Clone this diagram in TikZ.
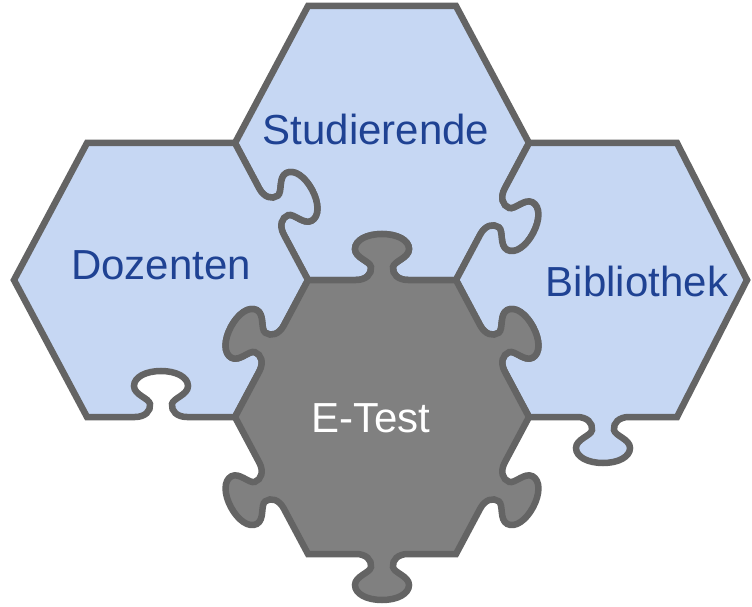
\documentclass[tikz,border=0pt]{standalone}
\usepackage{fontspec}
\setmainfont{Liberation Sans}
\usetikzlibrary{calc}

\definecolor{pieceblue}{RGB}{198,215,243}
\definecolor{piecegray}{RGB}{128,128,128}
\definecolor{edgegray}{RGB}{100,100,100}
\definecolor{labelblue}{RGB}{31,66,147}

\tikzset{
  piece/.style={draw=edgegray, line width=6.5pt, line join=miter, miter limit=10},
  bluepiece/.style={piece, fill=pieceblue},
  graypiece/.style={piece, fill=piecegray},
  lbl/.style={anchor=base, inner sep=0pt, font=\fontsize{42}{50}\selectfont, text=labelblue},
}

% corners of a hexagon with centre (#2,#3): L, TL, TR, R, BR, BL
\newcommand\hexpts[3]{%
  \coordinate (#1L)  at (#2-147,#3);
  \coordinate (#1TL) at (#2-74,#3-137);
  \coordinate (#1TR) at (#2+74,#3-137);
  \coordinate (#1R)  at (#2+147,#3);
  \coordinate (#1BR) at (#2+74,#3+137);
  \coordinate (#1BL) at (#2-74,#3+137);
}

% point of a tab on the edge #2 -> #3: #5 pt along the edge from its middle,
% #6 pt off the edge towards the side given by the angle #4 (90 out, 270 in)
\newcommand\tq[6]{\coordinate (#1) at ($(#2)!0.5!(#3)!#5pt!(#3)!#6pt!#4:(#3)$);}

\newcommand\maketab[4]{%
  \tq{#1p0}{#2}{#3}{#4}{-26}{0}
  \tq{#1a1}{#2}{#3}{#4}{-16}{0}
  \tq{#1b1}{#2}{#3}{#4}{-10}{6}
  \tq{#1p1}{#2}{#3}{#4}{-11}{13}
  \tq{#1a2}{#2}{#3}{#4}{-12}{19}
  \tq{#1b2}{#2}{#3}{#4}{-27}{22}
  \tq{#1p2}{#2}{#3}{#4}{-27}{31}
  \tq{#1a3}{#2}{#3}{#4}{-27}{40}
  \tq{#1b3}{#2}{#3}{#4}{-15}{46}
  \tq{#1p3}{#2}{#3}{#4}{0}{46}
  \tq{#1a4}{#2}{#3}{#4}{15}{46}
  \tq{#1b4}{#2}{#3}{#4}{27}{40}
  \tq{#1p4}{#2}{#3}{#4}{27}{31}
  \tq{#1a5}{#2}{#3}{#4}{27}{22}
  \tq{#1b5}{#2}{#3}{#4}{12}{19}
  \tq{#1p5}{#2}{#3}{#4}{11}{13}
  \tq{#1a6}{#2}{#3}{#4}{10}{6}
  \tq{#1b6}{#2}{#3}{#4}{16}{0}
  \tq{#1p6}{#2}{#3}{#4}{26}{0}
}

\newcommand\tabpath[1]{-- (#1p0)
  .. controls (#1a1) and (#1b1) .. (#1p1)
  .. controls (#1a2) and (#1b2) .. (#1p2)
  .. controls (#1a3) and (#1b3) .. (#1p3)
  .. controls (#1a4) and (#1b4) .. (#1p4)
  .. controls (#1a5) and (#1b5) .. (#1p5)
  .. controls (#1a6) and (#1b6) .. (#1p6)}

\begin{document}
\begin{tikzpicture}[x=1pt,y=-1pt]
\useasboundingbox (0,0) rectangle (752,607);

\hexpts{s}{382}{143}
\hexpts{d}{161}{280}
\hexpts{b}{603}{280}
\hexpts{e}{382}{417}
\coordinate (bR) at (747,280);

% Studierende
\maketab{sb}{sR}{sBR}{90}
\maketab{se}{sBR}{sBL}{270}
\maketab{sd}{sBL}{sL}{270}
% Dozenten
\maketab{ds}{dTR}{dR}{90}
\maketab{de}{dR}{dBR}{270}
\maketab{dbot}{dBR}{dBL}{270}
% Bibliothek
\maketab{bs}{bL}{bTL}{270}
\maketab{bbot}{bBR}{bBL}{90}
\maketab{be}{bBL}{bL}{270}
% E-Test
\maketab{ed}{eL}{eTL}{90}
\maketab{et}{eTL}{eTR}{90}
\maketab{eb}{eTR}{eR}{90}
\maketab{ebr}{eR}{eBR}{90}
\maketab{ebot}{eBR}{eBL}{90}
\maketab{ebl}{eBL}{eL}{90}

\path[bluepiece] (sL) -- (sTL) -- (sTR) -- (sR) \tabpath{sb} -- (sBR)
  \tabpath{se} -- (sBL) \tabpath{sd} -- cycle;
\path[bluepiece] (dL) -- (dTL) -- (dTR) \tabpath{ds} -- (dR) \tabpath{de} -- (dBR)
  \tabpath{dbot} -- (dBL) -- cycle;
\path[bluepiece] (bL) \tabpath{bs} -- (bTL) -- (bTR) -- (bR) -- (bBR)
  \tabpath{bbot} -- (bBL) \tabpath{be} -- cycle;
\path[graypiece] (eL) \tabpath{ed} -- (eTL) \tabpath{et} -- (eTR) \tabpath{eb} -- (eR)
  \tabpath{ebr} -- (eBR) \tabpath{ebot} -- (eBL) \tabpath{ebl} -- cycle;

\node[lbl] (tS) at (376,144) {Studierende};
\node[lbl] (tD) at (161,279) {Dozenten};
\node[lbl] (tB) at (637,296) {Bibliothek};
\node[lbl, text=white] (tE) at (371,432) {E-Test};
\end{tikzpicture}
\end{document}
